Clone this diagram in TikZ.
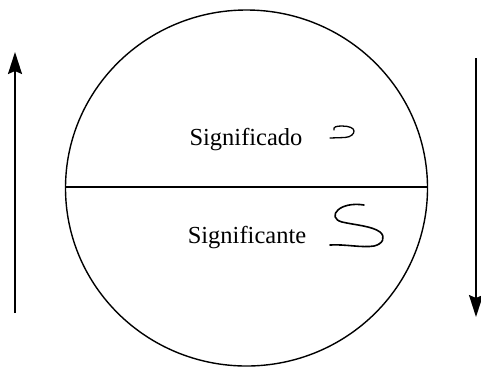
\documentclass[tikz,border=0pt]{standalone}
\usepackage{fontspec}
\setmainfont{Liberation Serif}
\usetikzlibrary{arrows.meta}
\tikzset{
  lbl/.style={font=\fontsize{24.5}{28}\selectfont, inner sep=0pt, anchor=base},
  flow/.style={line width=1.8pt, -{Stealth[length=22pt,width=14pt,inset=3pt]}},
  hand/.style={line width=1.6pt, line cap=round, line join=round},
}
\begin{document}
\begin{tikzpicture}[x=1pt,y=-1pt]
\useasboundingbox (0,0) rectangle (481,368);
\fill[white] (0,0) rectangle (481,368);
% circle
\coordinate (c) at (246.5,188);
\draw[line width=1.4pt] (c) ellipse [x radius=181, y radius=178];
\coordinate (l) at (65.5,187);
\coordinate (r) at (427.5,187);
\draw[line width=1.6pt] (l) -- (r);
% labels
\node[lbl] (sdo) at (246,145) {Significado};
\node[lbl] (ste) at (247,243) {Significante};
% small squiggle
\draw[hand, line width=1.3pt] (334,130) .. controls (333,127) and (336,126) .. (342,126)
  .. controls (349,126) and (354,128) .. (354,131)
  .. controls (354,134) and (351,137) .. (345,137.5)
  -- (330,138);
% large S
\draw[hand] (364,205) .. controls (352,203) and (342,206) .. (338,210)
  .. controls (333,214) and (334,220) .. (342,222)
  .. controls (355,225) and (372,226) .. (380,232)
  .. controls (386,237) and (383,244) .. (374,246)
  .. controls (362,248) and (345,244) .. (330,245);
% arrows
\coordinate (la) at (15,313);
\coordinate (lb) at (15,52);
\coordinate (ra) at (476,58);
\coordinate (rb) at (476,317);
\draw[flow] (la) -- (lb);
\draw[flow] (ra) -- (rb);
\end{tikzpicture}
\end{document}
